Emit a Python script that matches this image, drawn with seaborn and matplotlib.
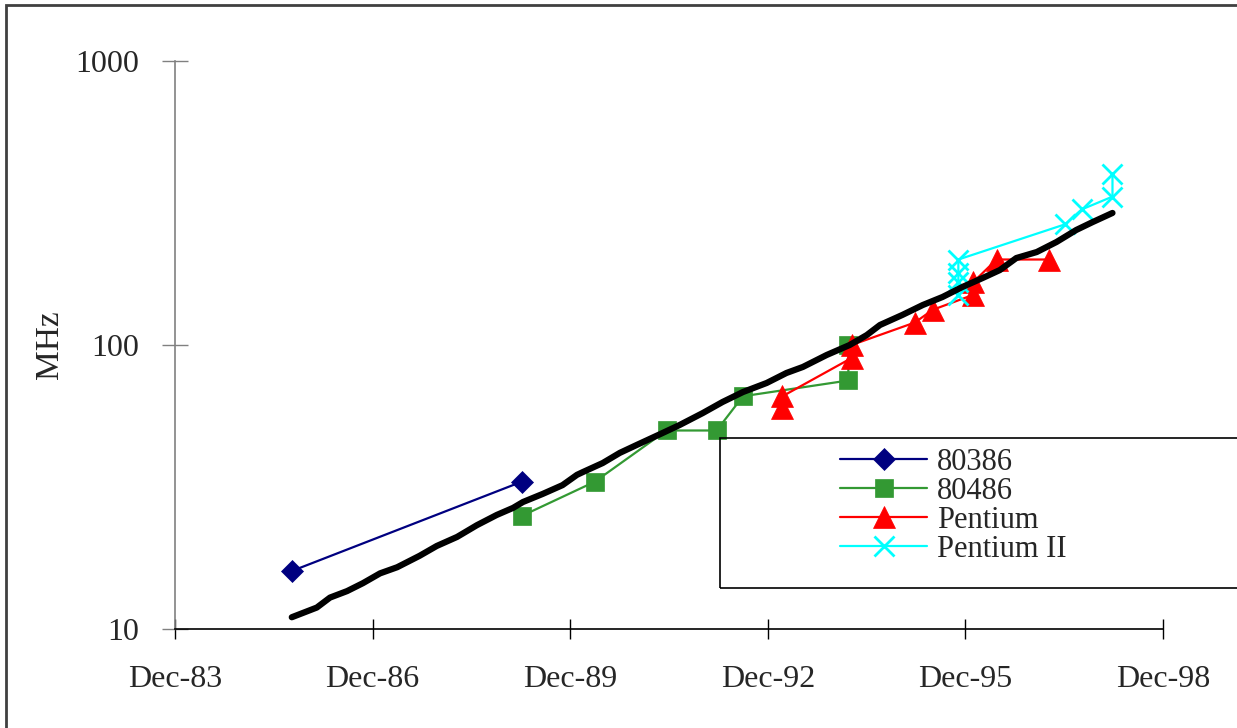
import numpy as np
import pandas as pd
import matplotlib
matplotlib.use("Agg")
import matplotlib.pyplot as plt
import seaborn as sns
from matplotlib.patches import Rectangle

# dates are decimal years, speeds in MHz
i386_year = [1985.69, 1989.18]
i386_mhz = [16, 33]

i486_year = [1989.18, 1990.29, 1991.38, 1992.14, 1992.54, 1994.14, 1994.14]
i486_mhz = [25, 33, 50, 50, 66, 75, 100]

pent_year = [1993.14, 1993.14, 1994.19, 1994.19, 1995.15, 1995.42, 1996.03, 1996.03, 1996.39, 1997.18]
pent_mhz = [60, 66, 90, 100, 120, 133, 150, 166, 200, 200]

p2_year = [1995.81, 1995.81, 1995.81, 1995.81, 1997.43, 1997.68, 1998.15, 1998.15]
p2_mhz = [150, 166, 180, 200, 266, 300, 333, 400]

# black trend line
trend_year = [1985.69, 1986.07, 1986.27, 1986.53, 1986.77, 1987.03, 1987.29, 1987.63,
              1987.89, 1988.20, 1988.50, 1988.80, 1989.05, 1989.20, 1989.50, 1989.80,
              1990.02, 1990.11, 1990.41, 1990.67, 1990.93, 1991.32, 1991.58, 1991.93,
              1992.23, 1992.54, 1992.90, 1993.20, 1993.45, 1993.81, 1994.16, 1994.42,
              1994.62, 1994.96, 1995.27, 1995.57, 1995.87, 1996.18, 1996.44, 1996.69,
              1997.00, 1997.30, 1997.60, 1997.85, 1998.15]
trend_mhz = [11.0, 11.9, 12.9, 13.6, 14.5, 15.7, 16.5, 18.1,
             19.6, 21.1, 23.2, 25.2, 26.7, 28.0, 29.9, 32.1,
             34.9, 35.7, 38.4, 41.7, 44.5, 49.0, 52.3, 57.6,
             63.0, 68.3, 73.5, 79.7, 83.7, 92.2, 100.0, 108.4,
             117.6, 127.6, 138.3, 147.6, 160.0, 172.2, 183.6, 202.4,
             212.5, 230.5, 254.1, 271.0, 291.7]

tick_labels = ["Dec-83", "Dec-86", "Dec-89", "Dec-92", "Dec-95", "Dec-98"]
tick_pos = [1983.917, 1986.917, 1989.917, 1992.917, 1995.917, 1998.917]

sns.set_theme(style="white")
plt.rcParams["font.family"] = ["Liberation Serif", "DejaVu Serif"]

W, H = 1237, 728
fig = plt.figure(figsize=(W / 100, H / 100), dpi=100)
ax = fig.add_axes([175 / W, 1 - 629 / H, 988 / W, 568 / H])

series = [
    ("80386", i386_year, i386_mhz, "#000080", "D", 11.5),
    ("80486", i486_year, i486_mhz, "#339933", "s", 13.5),
    ("Pentium", pent_year, pent_mhz, "#FF0000", "^", 16),
    ("Pentium II", p2_year, p2_mhz, "#00FFFF", "x", 15),
]
for name, xs, ys, col, mk, ms in series:
    sns.lineplot(x=xs, y=ys, ax=ax, color=col, marker=mk, markersize=ms,
                 markeredgecolor=col, markeredgewidth=2 if mk == "x" else 0.5,
                 linewidth=1.6, estimator=None, sort=False, label=name, legend=False)

sns.lineplot(x=trend_year, y=trend_mhz, ax=ax, color="black", linewidth=4.5,
             estimator=None, sort=False, legend=False)

ax.set_yscale("log")
ax.set_ylim(10, 1000)
ax.set_yticks([10, 100, 1000])
ax.set_yticklabels(["10", "100", "1000"])
ax.yaxis.set_minor_locator(matplotlib.ticker.NullLocator())
ax.set_xlim(tick_pos[0], tick_pos[-1])
ax.set_xticks(tick_pos)
ax.set_xticklabels(tick_labels)

for s in ["top", "right"]:
    ax.spines[s].set_visible(False)
ax.spines["left"].set_color("#808080")
ax.spines["left"].set_linewidth(1.2)
ax.spines["bottom"].set_color("black")
ax.spines["bottom"].set_linewidth(1.2)
ax.tick_params(axis="y", direction="inout", length=19, width=1, color="#808080",
               pad=16, labelsize=23, left=True)
ax.tick_params(axis="x", direction="inout", length=14, width=1, color="black",
               pad=19, labelsize=23, bottom=True)
ax.grid(False)

ax.set_ylabel("MHz", fontsize=24)
ax.yaxis.set_label_coords(-0.111, 0.5)

# legend box
fig.patches.append(Rectangle((720 / W, 1 - 588 / H), 1.0, 150 / H, transform=fig.transFigure,
                             fill=False, edgecolor="black", linewidth=1.2))
handles, labels = ax.get_legend_handles_labels()
fig.legend(handles, labels, loc="upper left", bbox_to_anchor=(840 / W, 1 - 448 / H),
           frameon=False, fontsize=22, handlelength=2.85, handletextpad=0.33,
           labelspacing=0.0, borderpad=0, borderaxespad=0)

# outer chart border
fig.patches.append(Rectangle((6 / W, -0.01), 1.02, 1 - 5 / H + 0.01, transform=fig.transFigure,
                             fill=False, edgecolor="#404040", linewidth=2))

fig.savefig("out.png", dpi=100)
